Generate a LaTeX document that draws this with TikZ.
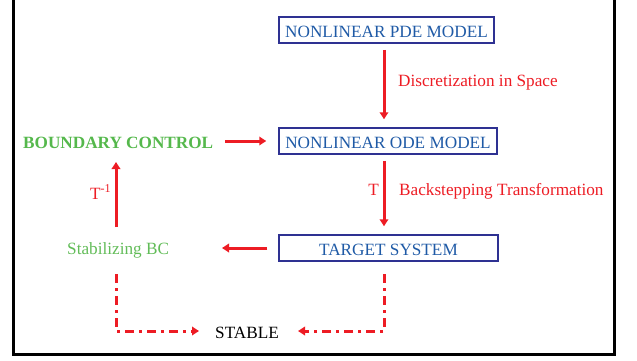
\documentclass[tikz,border=0pt]{standalone}
\usepackage{fontspec}
\setmainfont{Liberation Serif}
\usetikzlibrary{arrows.meta}
\definecolor{cred}{HTML}{ED1C24}
\definecolor{cgreen}{HTML}{55B84C}
\definecolor{cgreenl}{HTML}{62BC58}
\definecolor{cblue}{HTML}{1F5AA6}
\definecolor{cborder}{HTML}{2E3192}
\begin{document}
\begin{tikzpicture}[x=1pt,y=-1pt,
  every node/.style={font=\fontsize{17.2}{20}\selectfont},
  modelbox/.style={draw=cborder,line width=1.5pt,text=cblue,inner xsep=0pt,inner ysep=0pt,
    text height=20pt,text depth=6pt,anchor=base},
  lbl/.style={inner sep=0pt},
  arr/.style={draw=cred,line width=3pt,-{Triangle[length=7pt,width=8.5pt]}},
  dd/.style={draw=cred,line width=3pt,dash pattern=on 9pt off 5pt on 3pt off 5pt,-{Triangle[length=7pt,width=8.5pt]}}]
\useasboundingbox (0,0) rectangle (637,360);
\draw[line width=3pt] (13,-5) -- (13,354) -- (614,354) -- (614,-5);
% boxes
\node[modelbox,minimum width=215pt] (pde) at (386.5,37) {NONLINEAR PDE MODEL};
\node[modelbox,minimum width=218pt] (ode) at (388,148) {NONLINEAR ODE MODEL};
\node[modelbox,minimum width=219pt] (tgt) at (388.5,255) {TARGET SYSTEM};
% labels
\node[lbl,anchor=base west,text=cgreen,font=\fontsize{17.2}{20}\selectfont\bfseries] (bc) at (23,148) {BOUNDARY CONTROL};
\node[lbl,anchor=base west,text=cgreenl] (sbc) at (67,254) {Stabilizing BC};
\node[lbl,anchor=base west] (stable) at (215,338) {STABLE};
\node[lbl,anchor=base west,text=cred] (disc) at (398,86) {Discretization in Space};
\node[lbl,anchor=base west,text=cred] (back) at (399,195) {Backstepping Transformation};
\node[lbl,anchor=base east,text=cred] (tlab) at (379,195) {T};
\node[lbl,anchor=base west,text=cred] (tinv) at (90,199) {T\textsuperscript{-1}};
% helper coordinates
\coordinate (colx) at (384,0);
\coordinate (upa) at (116,227);
\coordinate (upb) at (116,162);
\coordinate (sbcR) at (222,248);
\coordinate (dl1) at (116,274);
\coordinate (dl2) at (199,331);
\coordinate (dr1) at (384,274);
\coordinate (dr2) at (298,331);
% arrows
\draw[arr] ([yshift=-6pt]pde.south -| colx) -- ([yshift=8pt]ode.north -| colx);
\draw[arr] ([yshift=-6pt]ode.south -| colx) -- ([yshift=8pt]tgt.north -| colx);
\draw[arr] ([xshift=12pt]bc.east |- ode.west) -- ([xshift=-12pt]ode.west);
\draw[arr] ([xshift=-11pt]tgt.west) -- (sbcR);
\draw[arr] (upa) -- (upb);
\draw[dd] (dl1) |- (dl2);
\draw[dd] (dr1) |- (dr2);
\end{tikzpicture}
\end{document}
